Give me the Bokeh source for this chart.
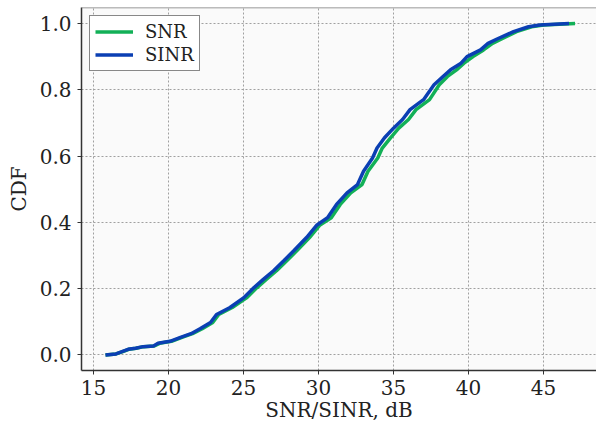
from bokeh.plotting import figure
from bokeh.models import (Range1d, SingleIntervalTicker, Span, Legend, LegendItem,
                          NumeralTickFormatter)
from bokeh.embed import file_html
from bokeh.resources import INLINE

# Empirical CDF traces: (dB value, cumulative probability)
snr_db = [15.8, 16.5, 16.95, 17.35, 17.85, 18.35, 19.05, 19.4, 20.2, 20.9,
          21.6, 22.25, 22.95, 23.35, 24.25, 25.2, 25.9, 26.5, 27.2, 27.9,
          28.55, 29.4, 30.1, 30.85, 31.45, 32.15, 32.9, 33.3, 33.95, 34.25,
          34.8, 35.35, 36.0, 36.5, 37.4, 38.05, 38.6, 39.2, 39.7, 40.3,
          41.0, 41.6, 42.2, 43.2, 44.2, 45.0, 47.1]
snr_cdf = [0.0, 0.003, 0.01, 0.017, 0.02, 0.025, 0.027, 0.035, 0.041, 0.053,
           0.064, 0.079, 0.098, 0.122, 0.143, 0.172, 0.203, 0.227, 0.254, 0.285,
           0.314, 0.354, 0.392, 0.414, 0.454, 0.489, 0.514, 0.554, 0.594, 0.624,
           0.655, 0.684, 0.71, 0.74, 0.77, 0.815, 0.84, 0.86, 0.88, 0.90,
           0.92, 0.94, 0.953, 0.975, 0.99, 0.995, 1.0]

sinr_db = [15.8, 16.5, 16.9, 17.3, 17.8, 18.3, 19.0, 19.3, 20.1, 20.8,
           21.5, 22.1, 22.8, 23.2, 24.1, 25.0, 25.7, 26.3, 27.0, 27.7,
           28.35, 29.2, 29.9, 30.6, 31.2, 31.9, 32.6, 33.0, 33.6, 33.9,
           34.4, 35.0, 35.6, 36.1, 37.0, 37.7, 38.3, 38.8, 39.5, 39.9,
           40.8, 41.3, 41.9, 43.0, 44.0, 44.75, 46.7]
sinr_cdf = [0.0, 0.003, 0.01, 0.017, 0.02, 0.025, 0.027, 0.035, 0.041, 0.053,
            0.064, 0.079, 0.098, 0.122, 0.143, 0.172, 0.203, 0.227, 0.254, 0.285,
            0.314, 0.354, 0.392, 0.414, 0.454, 0.489, 0.514, 0.554, 0.594, 0.624,
            0.655, 0.684, 0.71, 0.74, 0.77, 0.815, 0.84, 0.86, 0.88, 0.90,
            0.92, 0.94, 0.953, 0.975, 0.99, 0.995, 1.0]

series_names = ["SNR", "SINR"]
series_colors = ["#12b057", "#0b3fb3"]

FONT = "DejaVu Serif"
TEXT = "#222222"

x_start, x_end = 14.2, 48.53
y_start, y_end = -0.047, 1.048

p = figure(width=596, height=424, output_backend="svg", toolbar_location=None,
           x_range=Range1d(x_start, x_end), y_range=Range1d(y_start, y_end),
           min_border_left=81, min_border_right=0, min_border_top=7,
           min_border_bottom=54)

p.border_fill_color = "white"
p.background_fill_color = "#fafafa"
p.outline_line_color = None

r_snr = p.line(snr_db, snr_cdf, line_color=series_colors[0], line_width=3.5)
r_sinr = p.line(sinr_db, sinr_cdf, line_color=series_colors[1], line_width=3.5)

# top frame edge
p.add_layout(Span(location=y_end, dimension="width", line_color="#7a7a7a",
                  line_width=1.5))

p.xaxis.ticker = SingleIntervalTicker(interval=5)
p.yaxis.ticker = SingleIntervalTicker(interval=0.2)
p.yaxis.formatter = NumeralTickFormatter(format="0.0")
p.xaxis.axis_label = "SNR/SINR, dB"
p.yaxis.axis_label = "CDF"

for ax in (p.xaxis[0], p.yaxis[0]):
    ax.axis_line_color = "#333333"
    ax.axis_line_width = 1.5
    ax.major_tick_line_color = "#333333"
    ax.major_tick_in = 0
    ax.major_tick_out = 4
    ax.minor_tick_line_color = None
    ax.major_label_text_font = FONT
    ax.major_label_text_font_size = "20px"
    ax.major_label_text_color = TEXT
    ax.axis_label_text_font = FONT
    ax.axis_label_text_font_size = "20px"
    ax.axis_label_text_font_style = "normal"
    ax.axis_label_text_color = TEXT
p.yaxis.major_label_standoff = 6
p.yaxis.axis_label_standoff = 6
p.xaxis.major_label_standoff = 5
p.xaxis.axis_label_standoff = 0

for g in (p.xgrid[0], p.ygrid[0]):
    g.grid_line_color = "#a0a0a0"
    g.grid_line_dash = "2 2"
    g.grid_line_width = 1

legend = Legend(items=[LegendItem(label=series_names[0], renderers=[r_snr]),
                       LegendItem(label=series_names[1], renderers=[r_sinr])],
                location="top_left")
legend.margin = 8
legend.padding = 5
legend.spacing = 2
legend.glyph_width = 38
legend.glyph_height = 21
legend.label_standoff = 12
legend.label_text_font = FONT
legend.label_text_font_size = "18px"
legend.label_text_color = TEXT
legend.border_line_color = "#111111"
legend.border_line_width = 1.2
legend.background_fill_color = "white"
legend.background_fill_alpha = 1.0
p.add_layout(legend)

open("out.html", "w").write(file_html(p, INLINE))
